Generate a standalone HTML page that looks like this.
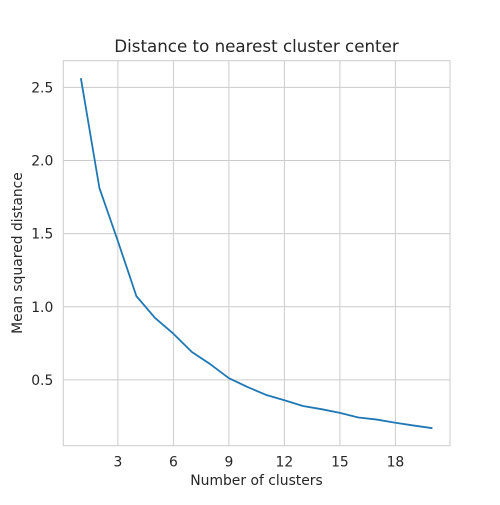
<!DOCTYPE html>
<html><head><meta charset="utf-8"><style>
body{margin:0;background:#fff;}
svg text{font-family:"DejaVu Sans","Liberation Sans",sans-serif;fill:#262626;}
</style></head><body>
<svg id="chart" width="500" height="500" viewBox="0 0 500 500">
<rect width="500" height="500" fill="#fff"/>
<g id="grid"></g>
<g id="ticks"></g>
<rect x="63.3" y="60.7" width="386.7" height="385" fill="none" stroke="#cccccc" stroke-width="1"/>
<g id="series"></g>
<text x="256.5" y="52" text-anchor="middle" font-size="16.7">Distance to nearest cluster center</text>
<text x="256.5" y="485" text-anchor="middle" font-size="13.9">Number of clusters</text>
<text transform="translate(22,253) rotate(-90)" text-anchor="middle" font-size="13.9">Mean squared distance</text>
</svg>
<script>
const clusters = [1,2,3,4,5,6,7,8,9,10,11,12,13,14,15,16,17,18,19,20];
const meanSqDist = [2.563,1.813,1.449,1.073,0.925,0.816,0.691,0.607,0.512,0.452,0.398,0.361,0.322,0.300,0.275,0.243,0.229,0.207,0.188,0.170];
const xTicks = [3,6,9,12,15,18];
const yTicks = [0.5,1.0,1.5,2.0,2.5];
const yTickLabels = ["0.5","1.0","1.5","2.0","2.5"];

const L=63.3,R=450,T=60.7,B=445.7;
const xmin=Math.min(...clusters), xmax=Math.max(...clusters);
const xpad=(xmax-xmin)*0.05;
const ymn=Math.min(...meanSqDist), ymx=Math.max(...meanSqDist);
const ypad=(ymx-ymn)*0.05;
const x0=xmin-xpad,x1=xmax+xpad,y0=ymn-ypad,y1=ymx+ypad;
const sx=v=>L+(v-x0)/(x1-x0)*(R-L);
const sy=v=>B-(v-y0)/(y1-y0)*(B-T);
const NS="http://www.w3.org/2000/svg";
const grid=document.getElementById('grid'),ticks=document.getElementById('ticks'),series=document.getElementById('series');
function mk(tag,attrs,parent){const e=document.createElementNS(NS,tag);for(const k in attrs)e.setAttribute(k,attrs[k]);parent.appendChild(e);return e;}
xTicks.forEach(t=>{
  const g=mk('line',{x1:sx(t),x2:sx(t),y1:T,y2:B,stroke:'#cccccc','stroke-width':1},grid);
  
  
  const tx=mk('text',{x:sx(t),y:B+21,'text-anchor':'middle','font-size':13.9},ticks);
  tx.textContent=t;
  
  
});
yTicks.forEach((t,i)=>{
  const g=mk('line',{x1:L,x2:R,y1:sy(t),y2:sy(t),stroke:'#cccccc','stroke-width':1},grid);
  
  
  const tx=mk('text',{x:L-10,y:sy(t)+5,'text-anchor':'end','font-size':13.9},ticks);
  tx.textContent=yTickLabels[i];
  
  
});
const p=mk('polyline',{points:clusters.map((c,i)=>sx(c)+','+sy(meanSqDist[i])).join(' '),fill:'none',stroke:'#1f77b4','stroke-width':1.8,'stroke-linejoin':'round'},series);


</script>
</body></html>
